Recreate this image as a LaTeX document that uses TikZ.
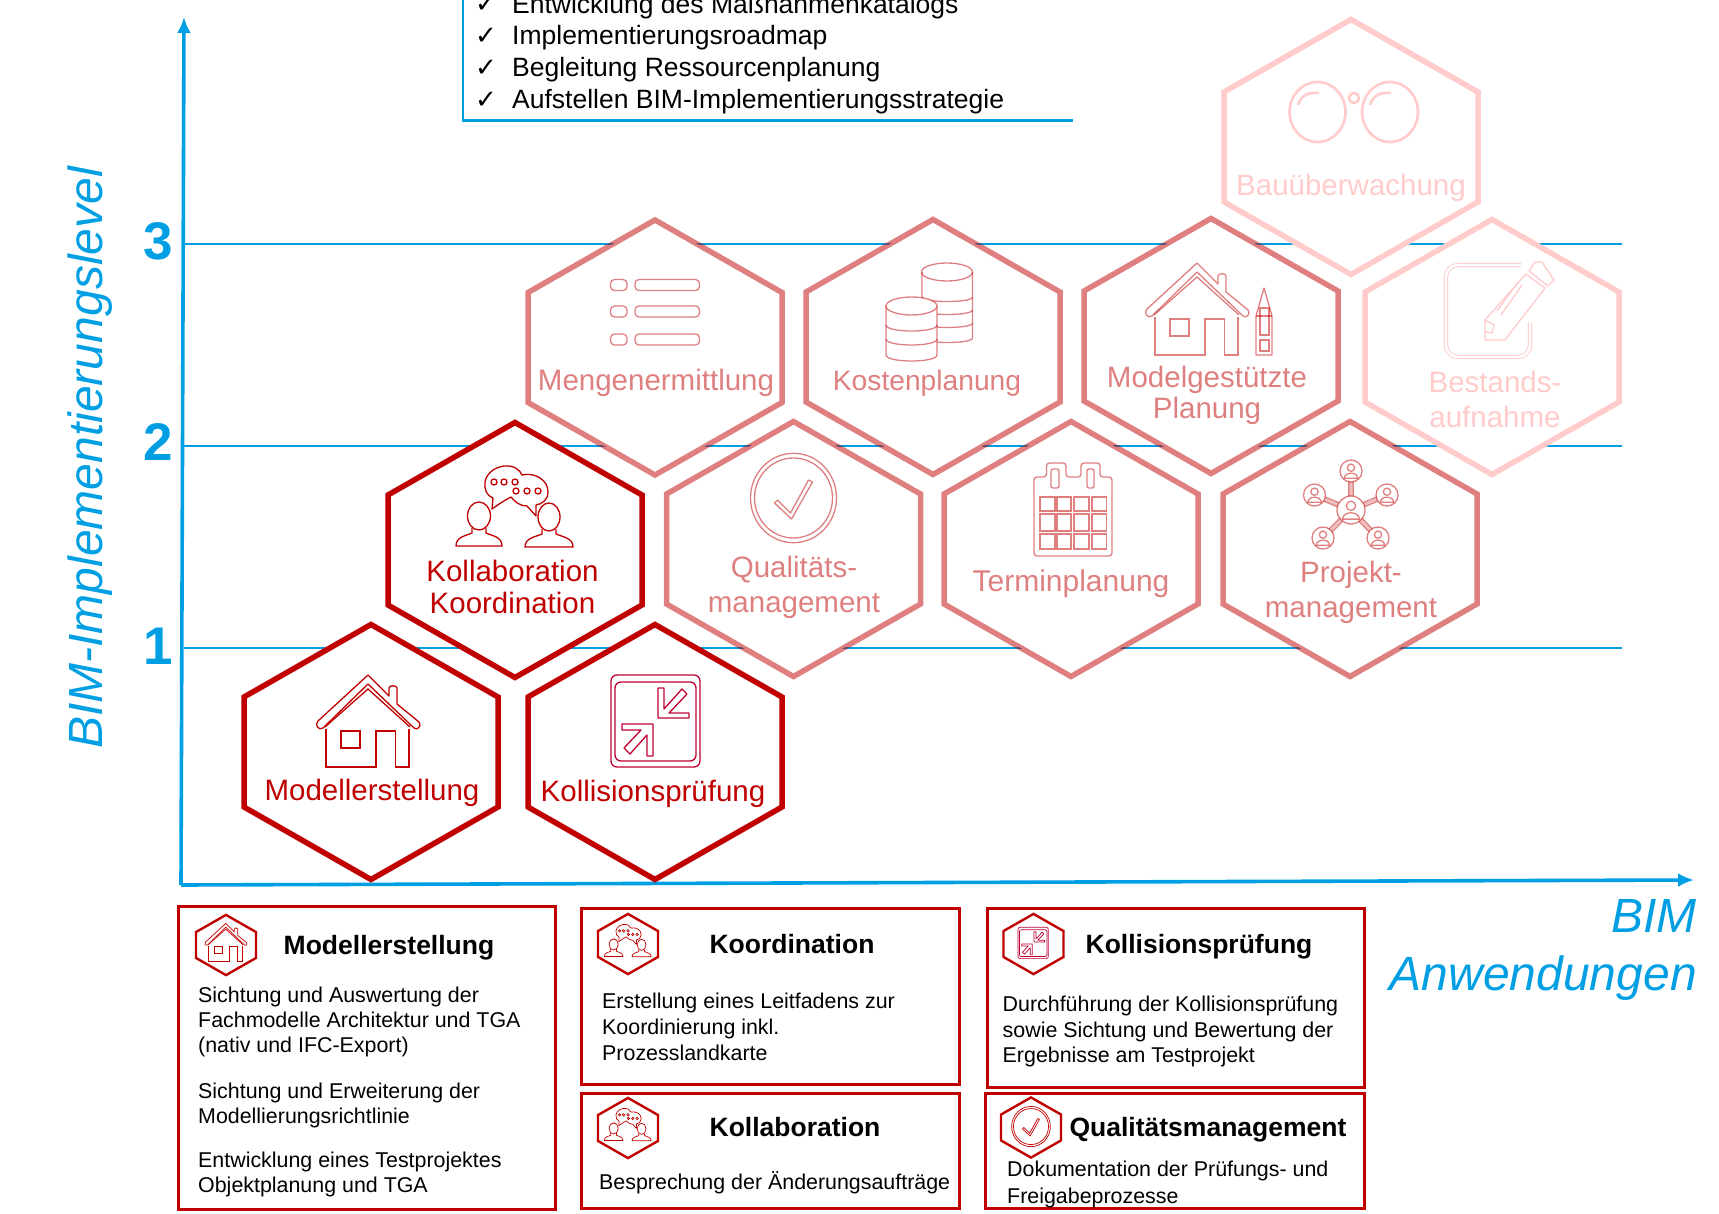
\documentclass[tikz,border=0pt]{standalone}
\usepackage{fontspec}
\setmainfont{Liberation Sans}
\newfontfamily\checkfont{DejaVu Sans}
\usetikzlibrary{arrows.meta}
\definecolor{bimblue}{HTML}{009FE3}
\definecolor{bimred}{HTML}{C00000}
\definecolor{bimmid}{HTML}{DF8080}
\definecolor{bimlight}{HTML}{FFCBCB}
\definecolor{bimcrimson}{HTML}{C00030}
\tikzset{
    iconline/.style={line width=1.3pt},
    iconround/.style={rounded corners=6pt},
    hexdark/.style={color=bimred,line width=5.5pt},
    hexmid/.style={color=bimred,draw opacity=.5,line width=5.5pt},
    hexlight/.style={color=bimlight,line width=5.5pt},
    hexsmall/.style={color=bimred,scale=.236,line width=2.4pt},
    iconsmall/.style={color=bimred,scale=#1,iconline/.style={line width=.7pt},iconround/.style={rounded corners=2pt}},
    celltext/.style={anchor=base,inner sep=0pt,align=center,font=\fontsize{29.5}{32}\selectfont},
    headtext/.style={anchor=base,inner sep=0pt,font=\fontsize{26.5}{30}\selectfont\bfseries},
    bodytext/.style={anchor=north west,inner sep=0pt,align=left,font=\fontsize{21.4}{25}\selectfont},
    listtext/.style={anchor=base west,inner sep=0pt,font=\fontsize{26.5}{30}\selectfont},
    checktext/.style={anchor=base,inner sep=0pt,font=\fontsize{26}{30}\checkfont},
    axistext/.style={inner sep=0pt,text=bimblue,font=\fontsize{48}{57}\selectfont\itshape},
    leveltext/.style={anchor=center,inner sep=0pt,text=bimblue,font=\fontsize{53}{60}\selectfont\bfseries},
    infobox/.style={draw=bimred,line width=2.6pt,anchor=north west},
    pics/hexcell/.style={code={
        \draw [fill=white,miter limit=4]
            (0,-127.5) -- (127,-55) -- (127,55) -- (0,127.5) -- (-127,55) -- (-127,-55) -- cycle;
    }},
    pics/icohouse/.style={code={
        \draw [iconline,line join=round]
            (-53,-31) -- (-3,-77) -- (18,-56) -- (18,-64) .. controls (18,-67) and (26,-67) .. (26,-64)
            -- (26,-48) -- (48,-30) .. controls (51,-26) and (46,-21) .. (43,-24)
            -- (-3,-68) -- (-48,-24) .. controls (-52,-21) and (-57,-27) .. cycle;
        \draw [iconline] (-46,-25) -- (-3,-63) -- (39,-25);
        \draw [iconline]
            (-45,-23) -- (-45,15) -- (5,15) -- (5,-21) -- (24.5,-21) -- (24.5,15) -- (38,15) -- (38,-23);
        \draw [iconline] (-30,-21) rectangle (-11,-4);
    }},
    pics/icopencil/.style={code={
        \draw [iconline,line join=round]
            (53,-58) -- (61,-30) -- (61,9) -- (45,9) -- (45,-30) -- cycle;
        \draw [iconline] (45,-30) -- (61,-30);
        \draw [iconline] (49,-38) rectangle (58,-11);
        \draw [iconline] (49,-6) rectangle (58,5);
    }},
    pics/icochat/.style={code={
        \draw [iconline,line join=round]
            (-23,-41) -- (-22,-52) .. controls (-34,-56) and (-35,-80) .. (-11,-84)
            .. controls (-1,-85) and (5,-80) .. (7,-75)
            .. controls (20,-78) and (33,-70) .. (33,-58)
            .. controls (33,-50) and (27,-46) .. (21,-45) -- (21,-34) -- (12,-44)
            .. controls (5,-44) and (0,-48) .. (-4,-53) .. controls (-10,-50) and (-16,-46) .. cycle;
        \draw [iconline] (-21,-68) circle [radius=3] (-11,-68) circle [radius=3] (0,-68) circle [radius=3];
        \draw [iconline] (1,-59) circle [radius=3] (12,-59) circle [radius=3] (23,-59) circle [radius=3];
        \draw [iconline] (-36,-34) ellipse [x radius=11.5,y radius=14];
        \draw [iconline] (34,-33) ellipse [x radius=11,y radius=14];
        \draw [iconline]
            (-43,-22) -- (-43,-17) .. controls (-50,-14) and (-59,-13) .. (-59,-4) -- (-13,-4)
            .. controls (-13,-13) and (-22,-14) .. (-29,-17) -- (-29,-22);
        \draw [iconline]
            (27,-21) -- (27,-16) .. controls (20,-13) and (10,-12) .. (10,-3) -- (58,-3)
            .. controls (58,-12) and (48,-13) .. (41,-16) -- (41,-21);
    }},
    pics/icocompress/.style={code={
        \draw [iconline,iconround,color=bimcrimson] (-44,-77) rectangle (45,15);
        \draw [iconline,iconround,color=bimcrimson] (-40,-70) rectangle (41,9);
        \draw [iconline,color=bimcrimson,line join=round]
            (3,-64) -- (9,-64) -- (9,-43) -- (27,-63) -- (32,-58) -- (14,-39) -- (34,-39)
            -- (34,-34) -- (3,-34) -- cycle;
        \draw [iconline,color=bimcrimson,line join=round]
            (-2,4) -- (-8,4) -- (-8,-17) -- (-25,2) -- (-31,-4) -- (-14,-22) -- (-33,-22)
            -- (-33,-28) -- (-2,-28) -- cycle;
    }},
    pics/icolist/.style={code={
        \draw [iconline,rounded corners=4pt] (-44.5,-68) rectangle (-28,-57);
        \draw [iconline,rounded corners=4pt] (-20,-68) rectangle (44.5,-57);
        \draw [iconline,rounded corners=4pt] (-44.5,-41.5) rectangle (-28,-30.5);
        \draw [iconline,rounded corners=4pt] (-20,-41.5) rectangle (44.5,-30.5);
        \draw [iconline,rounded corners=4pt] (-44.5,-13.5) rectangle (-28,-2.5);
        \draw [iconline,rounded corners=4pt] (-20,-13.5) rectangle (44.5,-2.5);
    }},
    pics/icocoins/.style={code={
        \draw [iconline] (-11,-75) -- (-11,-9) .. controls (-11,-3) and (39.5,-3) .. (39.5,-9) -- (39.5,-75);
        \draw [iconline] (14,-75) ellipse [x radius=25.5,y radius=9];
        \draw [iconline] (-11,-50) .. controls (-11,-44) and (39.5,-44) .. (39.5,-50);
        \draw [iconline] (-11,-37) .. controls (-11,-31) and (39.5,-31) .. (39.5,-37);
        \draw [iconline] (-11,-24) .. controls (-11,-18) and (39.5,-18) .. (39.5,-24);
        \draw [iconline,fill=white]
            (-47,-41) -- (-47,8) .. controls (-47,16) and (4,16) .. (4,8) -- (4,-41) -- cycle;
        \draw [iconline,fill=white] (-21.5,-41) ellipse [x radius=25.5,y radius=9];
        \draw [iconline] (-47,-22) .. controls (-47,-14) and (4,-14) .. (4,-22);
        \draw [iconline] (-47,-8) .. controls (-47,0) and (4,0) .. (4,-8);
    }},
    pics/icocheck/.style={code={
        \draw [iconline] (0,-51) ellipse [x radius=43,y radius=44.7];
        \draw [iconline] (0,-51) ellipse [x radius=39,y radius=40];
        \draw [iconline,line join=round]
            (-19,-46) -- (-16,-49) -- (-3,-36) -- (15,-69) -- (19,-67) -- (-2,-30) -- cycle;
    }},
    pics/icocalendar/.style={code={
        \draw [iconline,rounded corners=3pt]
            (-24.5,-72) -- (-24.5,-86) -- (-5,-86) -- (-5,-72) -- (10,-72) -- (10,-86) -- (29,-86)
            -- (29,-72) -- (41,-72) -- (41,7) -- (-37,7) -- (-37,-72) -- cycle;
        \draw [iconline,rounded corners=2pt] (-20,-80) rectangle (-12,-61);
        \draw [iconline,rounded corners=2pt] (16,-80) rectangle (23,-61);
        \draw [iconline] (-31,-52) rectangle (-16,-38) (-14,-52) rectangle (0,-38)
            (3,-52) rectangle (18,-38) (21,-52) rectangle (35.5,-38);
        \draw [iconline] (-31,-35) rectangle (-16,-18) (-14,-35) rectangle (0,-18)
            (3,-35) rectangle (18,-18) (21,-35) rectangle (35.5,-18);
        \draw [iconline] (-31,-15) rectangle (-16,0) (-14,-15) rectangle (0,0)
            (3,-15) rectangle (18,0) (21,-15) rectangle (35.5,0);
    }},
    pics/netperson/.style={code={
        \draw [iconline,fill=white] (0,0) circle [radius=#1];
        \draw [iconline] (0,-.3*#1) circle [radius=.33*#1];
        \draw [iconline] (-.6*#1,.65*#1) .. controls (-.6*#1,.05*#1) and (.6*#1,.05*#1) .. (.6*#1,.65*#1) -- cycle;
    }},
    pics/iconetwork/.style={code={
        \draw [iconline,double=white,double distance=3pt]
            (1,-39) -- (1,-78) (1,-39) -- (-35.5,-54) (1,-39) -- (37,-54)
            (1,-39) -- (-27,-11) (1,-39) -- (28,-11);
        \path
            (1,-78) pic {netperson=11}
            (-35.5,-54) pic {netperson=11}
            (37,-54) pic {netperson=11}
            (-27,-11) pic {netperson=11}
            (28,-11) pic {netperson=11}
            (1,-39) pic {netperson=14};
    }},
    pics/icoglasses/.style={code={
        \draw [line width=2.6pt] (-33.5,-35) ellipse [x radius=28,y radius=30];
        \draw [line width=2.6pt] (39,-35) ellipse [x radius=28,y radius=30];
        \draw [line width=2.6pt] (3,-49) circle [radius=5];
        \draw [line width=2.6pt] (-53,-42) .. controls (-50,-52) and (-42,-55) .. (-32,-54);
        \draw [line width=2.6pt] (19,-42) .. controls (22,-52) and (30,-55) .. (40,-54);
    }},
    pics/icoedit/.style={code={
        \draw [line width=.9pt,double=white,double distance=2.4pt,rounded corners=12pt]
            (29,-82) -- (-46,-82) -- (-46,10) -- (38,10) -- (38,-24);
        \draw [iconline,line join=round,fill=white]
            (-7,-7) -- (-7,-27) -- (34,-73) -- (53,-59) -- (13,-7) -- cycle;
        \draw [iconline,line join=round,fill=white]
            (37,-76) -- (43,-85) -- (50,-85) -- (62,-67) -- (56,-61) -- cycle;
        \draw [iconline] (5,-36) -- (26,-65) (9,-32) -- (30,-62);
        \draw [iconline] (-7,-27) -- (2,-22) -- (0,-14) -- (-7,-15);
    }},
}
\begin{document}
\begin{tikzpicture}[x=1pt,y=-1pt]
\path [use as bounding box] (0,0) rectangle (1719,1214);

\path
    (184,244) coordinate (gridstart3)
    (184,446) coordinate (gridstart2)
    (184,648) coordinate (gridstart1)
    (1622,244) coordinate (gridend3)
    (1622,446) coordinate (gridend2)
    (1622,648) coordinate (gridend1)
    (181,885) coordinate (origin)
    (184,17) coordinate (ytip)
    (1694,880) coordinate (xtip)
    (463,-10) coordinate (liststart)
    (463,120.5) coordinate (listcorner)
    (1073,120.5) coordinate (listend);
\draw [bimblue,line width=2pt] (gridstart3) -- (gridend3);
\draw [bimblue,line width=2pt] (gridstart2) -- (gridend2);
\draw [bimblue,line width=2pt] (gridstart1) -- (gridend1);
\draw [bimblue,line width=3.6pt,-{Latex[length=16pt,width=14pt]}] (origin) -- (ytip);
\draw [bimblue,line width=3.6pt,-{Latex[length=16pt,width=14pt]}] (origin) -- (xtip);
\draw [bimblue,line width=2.4pt] (liststart) -- (listcorner) -- (listend);

\path
    (158,241) node [leveltext] (level3) {3}
    (158,442) node [leveltext] (level2) {2}
    (158,646) node [leveltext] (level1) {1}
    (90,458) node [axistext,rotate=90] (ylabel) {BIM-Implementierungslevel}
    (1697,932) node [axistext,anchor=base east] (xlabel1) {BIM}
    (1697,990) node [axistext,anchor=base east] (xlabel2) {Anwendungen};

\path
    (486,13) node [checktext] (check1) {✓}
    (486,44.5) node [checktext] (check2) {✓}
    (486,76.5) node [checktext] (check3) {✓}
    (486,108.5) node [checktext] (check4) {✓}
    (512,13.5) node [listtext] (list1) {Entwicklung des Maßnahmenkatalogs}
    (512,44.5) node [listtext] (list2) {Implementierungsroadmap}
    (512,76.5) node [listtext] (list3) {Begleitung Ressourcenplanung}
    (512,108.5) node [listtext] (list4) {Aufstellen BIM-Implementierungsstrategie};

\path [hexlight]
    (1351,147) pic {hexcell} pic {icoglasses}
    (1492,347) pic {hexcell} pic {icoedit};
\path [hexmid]
    (655,347.5) pic {hexcell} pic {icolist}
    (933,347) pic {hexcell} pic {icocoins}
    (1211,346) pic {hexcell} pic {icopencil}
    (1200,340) pic {icohouse}
    (793.5,549) pic {hexcell} pic {icocheck}
    (1071,549) pic {hexcell} pic {icocalendar}
    (1350,549) pic {hexcell} pic {iconetwork};
\path [hexdark]
    (515,550) pic {hexcell} pic {icochat}
    (371,752) pic {hexcell} pic {icohouse}
    (655,752) pic {hexcell} pic {icocompress};

\path [text=bimlight]
    (1351,196) node [celltext] (bau) {Bauüberwachung}
    (1495,428) node [celltext,font=\fontsize{29.5}{35}\selectfont] (bestand) {Bestands-\\aufnahme};
\path [text=bimmid]
    (656,391) node [celltext] (menge) {Mengenermittlung}
    (927,391) node [celltext,font=\fontsize{28.2}{32}\selectfont] (kosten) {Kostenplanung}
    (1207,418) node [celltext,font=\fontsize{29.5}{31}\selectfont] (modelplan) {Modelgestützte\\Planung}
    (794,612) node [celltext,font=\fontsize{29.5}{35}\selectfont] (quali) {Qualitäts-\\management}
    (1071,591) node [celltext,font=\fontsize{30}{32}\selectfont] (termin) {Terminplanung}
    (1351,617) node [celltext,font=\fontsize{29.5}{35}\selectfont] (projekt) {Projekt-\\management};
\path [text=bimred]
    (512.5,613) node [celltext] (kollab) {Kollaboration\\Koordination}
    (372,800) node [celltext] (model) {Modellerstellung}
    (653,801) node [celltext] (kolli) {Kollisionsprüfung};

\node [infobox,minimum width=377pt,minimum height=303pt] (boxmodel) at (177,905) {};
\node [infobox,minimum width=378pt,minimum height=176pt] (boxkoord) at (580,907) {};
\node [infobox,minimum width=378pt,minimum height=115pt] (boxkollab) at (580,1092) {};
\node [infobox,minimum width=377pt,minimum height=179pt] (boxkolli) at (986,907) {};
\node [infobox,minimum width=379pt,minimum height=115pt] (boxquali) at (984,1092) {};

\path
    (226,945) pic [hexsmall] {hexcell}
    (227,955) pic [iconsmall=.41] {icohouse}
    (628,944) pic [hexsmall] {hexcell}
    (628,958) pic [iconsmall=.4] {icochat}
    (628,1128) pic [hexsmall] {hexcell}
    (628,1142) pic [iconsmall=.4] {icochat}
    (1033.5,944) pic [hexsmall] {hexcell}
    (1033,953.5) pic [iconsmall=.34] {icocompress}
    (1031,1127.5) pic [hexsmall] {hexcell}
    (1031,1149.5) pic [iconsmall=.45] {icocheck};

\path
    (389,954) node [headtext] (headmodel) {Modellerstellung}
    (792,953) node [headtext] (headkoord) {Koordination}
    (795,1136) node [headtext] (headkollab) {Kollaboration}
    (1199,953) node [headtext] (headkolli) {Kollisionsprüfung}
    (1208,1136) node [headtext] (headquali) {Qualitätsmanagement};

\path
    (198,987) node [bodytext] (textmodel1) {Sichtung und Auswertung der\\Fachmodelle Architektur und TGA\\(nativ und IFC-Export)}
    (198,1083) node [bodytext] (textmodel2) {Sichtung und Erweiterung der\\Modellierungsrichtlinie}
    (198,1152) node [bodytext] (textmodel3) {Entwicklung eines Testprojektes\\Objektplanung und TGA}
    (602,993) node [bodytext,font=\fontsize{21.4}{26}\selectfont] (textkoord) {Erstellung eines Leitfadens zur\\Koordinierung inkl.\\Prozesslandkarte}
    (599,1171) node [bodytext] (textkollab) {Besprechung der Änderungsaufträge}
    (1002.5,996) node [bodytext,font=\fontsize{21.4}{25.5}\selectfont] (textkolli) {Durchführung der Kollisionsprüfung\\sowie Sichtung und Bewertung der\\Ergebnisse am Testprojekt}
    (1007,1161) node [bodytext,font=\fontsize{21.4}{26.5}\selectfont] (textquali) {Dokumentation der Prüfungs- und\\Freigabeprozesse};
\end{tikzpicture}
\end{document}
